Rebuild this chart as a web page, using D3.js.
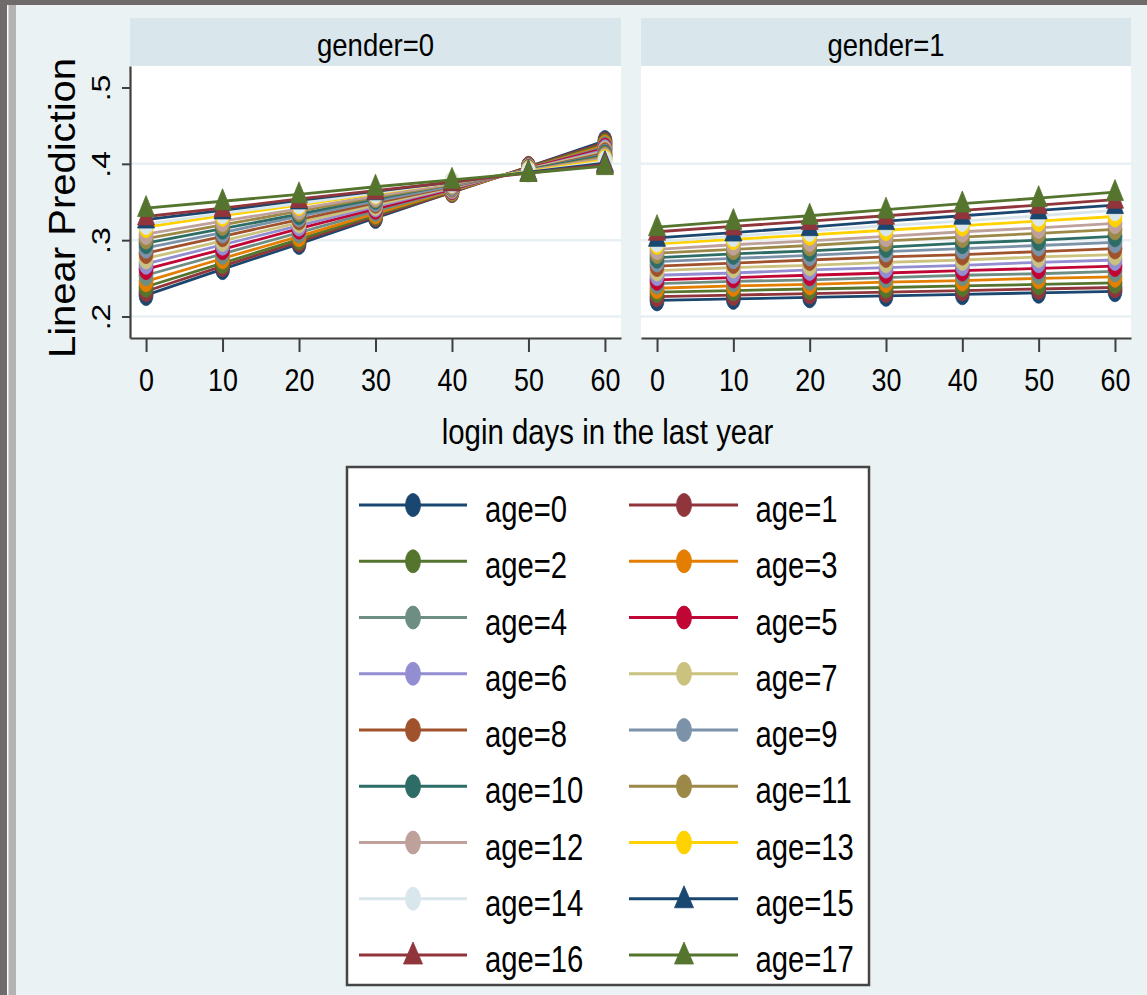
<!DOCTYPE html>
<html><head><meta charset="utf-8">
<script src="https://cdn.jsdelivr.net/npm/d3@7"></script>
<style>
body{margin:0;background:#eaf2f3;}
svg{display:block;}
text{font-family:"Liberation Sans",Arial,sans-serif;fill:#000;}
</style>
</head><body>
<svg id="c" width="1147" height="995"></svg>
<script>
// ---------- data ----------
const loginDays = [0, 10, 20, 30, 40, 50, 60];
const ageLabels = ["age=0","age=1","age=2","age=3","age=4","age=5","age=6","age=7","age=8",
  "age=9","age=10","age=11","age=12","age=13","age=14","age=15","age=16","age=17"];
const panelTitles = ["gender=0", "gender=1"];
const xTicks = [0, 10, 20, 30, 40, 50, 60];
const yTicks = [0.2, 0.3, 0.4, 0.5];
const yTickLabels = [".2", ".3", ".4", ".5"];
const gridTicks = [0.2, 0.3, 0.4];
const yTitle = "Linear Prediction";
const xTitle = "login days in the last year";

// predicted values per age (rows) at each login-days value (columns)
const gender0 = [
  [.228,.262,.295,.329,.363,.396,.430],
  [.233,.266,.298,.331,.363,.396,.428],
  [.239,.270,.301,.333,.364,.395,.426],
  [.246,.276,.305,.335,.365,.394,.424],
  [.254,.282,.310,.338,.366,.394,.422],
  [.262,.288,.315,.341,.367,.394,.420],
  [.269,.294,.319,.344,.368,.393,.418],
  [.276,.299,.323,.346,.369,.393,.416],
  [.283,.305,.327,.349,.370,.392,.414],
  [.290,.310,.331,.351,.371,.392,.412],
  [.296,.315,.334,.354,.373,.392,.411],
  [.302,.320,.338,.356,.373,.391,.409],
  [.308,.325,.341,.358,.374,.391,.407],
  [.317,.332,.346,.361,.376,.390,.405],
  [.321,.335,.348,.362,.376,.389,.403],
  [.327,.339,.352,.364,.376,.389,.401],
  [.331,.342,.354,.365,.376,.388,.399],
  [.342,.351,.360,.370,.379,.388,.397]
];
const gender1 = [
  [.221,.223,.225,.227,.229,.231,.233],
  [.226,.228,.230,.232,.234,.236,.238],
  [.232,.234,.236,.238,.240,.242,.244],
  [.237,.240,.242,.245,.247,.250,.252],
  [.243,.246,.248,.251,.254,.256,.259],
  [.248,.251,.254,.257,.260,.263,.266],
  [.254,.257,.261,.264,.267,.271,.274],
  [.260,.264,.267,.271,.274,.278,.281],
  [.266,.270,.274,.278,.281,.285,.289],
  [.272,.276,.280,.285,.289,.293,.297],
  [.277,.282,.286,.291,.296,.300,.305],
  [.283,.288,.293,.299,.304,.309,.314],
  [.288,.294,.299,.305,.311,.316,.322],
  [.295,.301,.307,.313,.319,.325,.331],
  [.298,.305,.312,.319,.325,.332,.339],
  [.303,.310,.317,.325,.332,.339,.346],
  [.311,.318,.325,.332,.339,.346,.353],
  [.317,.325,.332,.340,.348,.355,.363]
];
const seriesColors = ["#1a476f","#90353b","#55752f","#e37e00","#6e8e84","#c10534",
  "#938dd2","#cac27e","#a0522d","#7b92a8","#2d6d66","#9c8847","#bfa19c","#ffd200",
  "#d9e6eb","#1a476f","#90353b","#55752f"];
const seriesMarkers = ["circle","circle","circle","circle","circle","circle","circle",
  "circle","circle","circle","circle","circle","circle","circle","circle",
  "triangle","triangle","triangle"];

// ---------- drawing ----------
const svg = d3.select("#c");
const W = 1147, H = 995;
const FONT = '"Liberation Sans", Arial, sans-serif';

svg.append("rect").attr("width", W).attr("height", H).attr("fill", "#eaf2f3");
// window frame
svg.append("rect").attr("x", 0).attr("y", 0).attr("width", W).attr("height", 5).attr("fill", "#6f6b6b");
svg.append("rect").attr("x", 0).attr("y", 0).attr("width", 7).attr("height", H).attr("fill", "#6f6b6b");
svg.append("rect").attr("x", 7).attr("y", 5).attr("width", 1.5).attr("height", H).attr("fill", "#ffffff");
svg.append("rect").attr("x", 8.5).attr("y", 5).attr("width", 7.5).attr("height", H).attr("fill", "#b3b3b3");

const plotTop = 66, plotBot = 338;
const y = d3.scaleLinear().domain([0.1718, 0.5282]).range([plotBot, plotTop]);

function markerPath(type, big) {
  const a = big ? 13 : 12.5, b = big ? 9 : 8.5, w = big ? 9.5 : 8.5;
  return `M0,${-a}L${w},${b}L${-w},${b}Z`;
}
function drawMarker(g, type, color, cx, cy, big) {
  if (type === "circle") {
    g.append("ellipse").attr("cx", cx).attr("cy", cy)
      .attr("rx", big ? 7.5 : 7).attr("ry", big ? 11.5 : 10.5)
      .attr("fill", color).attr("stroke", color).attr("stroke-width", 0.8);
  } else {
    g.append("path").attr("d", markerPath(type, big))
      .attr("transform", `translate(${cx},${cy})`)
      .attr("fill", color).attr("stroke", color).attr("stroke-width", 0.8);
  }
}

const panels = [
  {x0: 130, x1: 621, data: gender0, title: panelTitles[0], leftAxis: true},
  {x0: 641, x1: 1131, data: gender1, title: panelTitles[1], leftAxis: false}
];

panels.forEach(p => {
  const x = d3.scaleLinear().domain([-2.1, 62.1]).range([p.x0, p.x1]);
  // strip
  svg.append("rect").attr("x", p.x0).attr("y", 18).attr("width", p.x1 - p.x0)
    .attr("height", plotTop - 18).attr("fill", "#d9e6eb");
  svg.append("text").attr("text-anchor", "middle")
    .attr("transform", `translate(${(p.x0 + p.x1) / 2},55.5) scale(0.86,1)`)
    .style("font-size", "32px").text(p.title);
  // plot region
  svg.append("rect").attr("x", p.x0).attr("y", plotTop).attr("width", p.x1 - p.x0)
    .attr("height", plotBot - plotTop).attr("fill", "#ffffff");
  // grid
  svg.append("g").selectAll("line").data(gridTicks).join("line")
    .attr("x1", p.x0).attr("x2", p.x1).attr("y1", d => y(d)).attr("y2", d => y(d))
    .attr("stroke", "#e8f0f3").attr("stroke-width", 2.5);
  // series
  const line = d3.line().x((d, i) => x(loginDays[i])).y(d => y(d));
  p.data.forEach((vals, si) => {
    const g = svg.append("g");
    g.append("path").attr("d", line(vals)).attr("fill", "none")
      .attr("stroke", seriesColors[si]).attr("stroke-width", 2.8);
    vals.forEach((v, i) => drawMarker(g, seriesMarkers[si], seriesColors[si], x(loginDays[i]), y(v), false));
  });
  // x axis
  const xa = svg.append("g").attr("transform", `translate(0,${plotBot})`)
    .call(d3.axisBottom(x).tickValues(xTicks).tickSize(14).tickSizeOuter(0).tickFormat(d3.format("d")));
  xa.select(".domain").attr("stroke", "#3f3f3f").attr("stroke-width", 2.2);
  xa.selectAll(".tick line").attr("stroke", "#3f3f3f").attr("stroke-width", 2);
  xa.selectAll(".tick text").attr("y", null).attr("dy", null)
    .attr("transform", "translate(0,53) scale(0.84,1)")
    .style("font-size", "32px").style("font-family", FONT).attr("fill", "#000");
  // y axis
  if (p.leftAxis) {
    const ya = svg.append("g").attr("transform", `translate(${p.x0},0)`)
      .call(d3.axisLeft(y).tickValues(yTicks).tickSize(8).tickSizeOuter(0)
        .tickFormat((d, i) => yTickLabels[i]));
    ya.select(".domain").attr("stroke", "#3f3f3f").attr("stroke-width", 2.2);
    ya.selectAll(".tick line").attr("stroke", "#3f3f3f").attr("stroke-width", 2);
    ya.selectAll(".tick text").attr("x", null).attr("dy", null)
      .attr("text-anchor", "middle")
      .attr("transform", "translate(-20,0) scale(0.8,1) rotate(-90)")
      .style("font-size", "32px").style("font-family", FONT).attr("fill", "#000");
  }
});

// axis titles
svg.append("text").attr("text-anchor", "middle")
  .attr("transform", "translate(75,208) scale(0.9,1) rotate(-90)")
  .style("font-size", "40px").text(yTitle);
svg.append("text").attr("text-anchor", "middle")
  .attr("transform", "translate(607.5,444) scale(0.84,1)")
  .style("font-size", "35px").text(xTitle);

// legend
const lg = svg.append("g");
lg.append("rect").attr("x", 347).attr("y", 467).attr("width", 522).attr("height", 518)
  .attr("fill", "#ffffff").attr("stroke", "#454545").attr("stroke-width", 2.5);
const cols = [{l0: 359, l1: 467, m: 413, t: 485}, {l0: 629, l1: 738, m: 684, t: 755.5}];
ageLabels.forEach((lab, i) => {
  const c = cols[i % 2];
  const ly = 505 + Math.floor(i / 2) * 56.25;
  lg.append("line").attr("x1", c.l0).attr("x2", c.l1).attr("y1", ly).attr("y2", ly)
    .attr("stroke", seriesColors[i]).attr("stroke-width", 3);
  drawMarker(lg, seriesMarkers[i], seriesColors[i], c.m, ly, true);
  lg.append("text").attr("transform", `translate(${c.t},${ly + 17}) scale(0.79,1)`)
    .style("font-size", "37px").text(lab);
});
</script>
</body></html>
